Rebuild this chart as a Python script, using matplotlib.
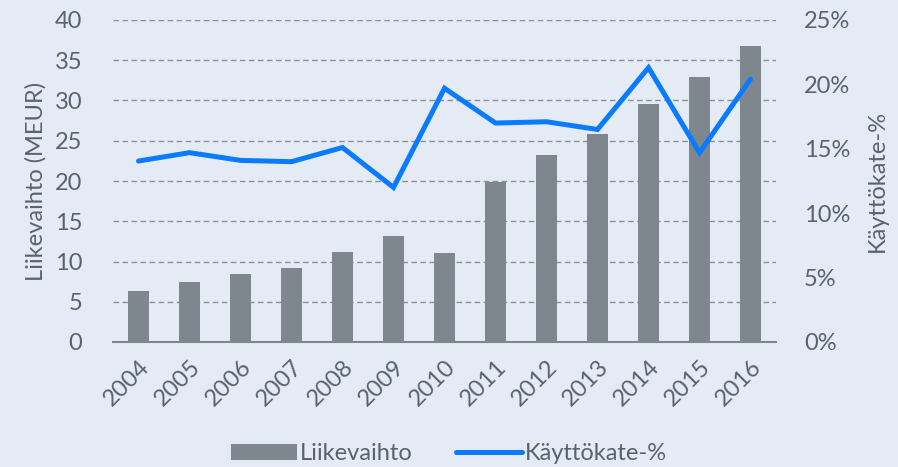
import numpy as np
import matplotlib
matplotlib.use('Agg')
import matplotlib.pyplot as plt

years = ['2004', '2005', '2006', '2007', '2008', '2009', '2010',
         '2011', '2012', '2013', '2014', '2015', '2016']
liikevaihto = [6.3, 7.45, 8.45, 9.2, 11.2, 13.2, 11.05, 19.9, 23.2, 25.8, 29.6, 32.9, 36.8]
kayttokate = [14.05, 14.7, 14.1, 14.0, 15.1, 12.0, 19.7, 17.0, 17.1, 16.5, 21.3, 14.7, 20.4]

bg = '#E4EBF5'
txt = '#596270'
bar_col = '#7E878D'
line_col = '#0A7BFF'

plt.rcParams['font.family'] = ['Lato', 'DejaVu Sans']
fs = 17

fig = plt.figure(figsize=(8.98, 4.67), dpi=100, facecolor=bg)
ax = fig.add_axes([113/898, 1-342/467, 663/898, 322/467])
ax.set_facecolor(bg)
x = np.arange(len(years))
bars = ax.bar(x, liikevaihto, width=0.4, color=bar_col, label='Liikevaihto', zorder=2)
ax.set_xlim(-0.5, len(years)-0.5)
ax.set_ylim(0, 40)
ax.set_yticks(range(0, 41, 5))
ax.yaxis.grid(True, linestyle=(0, (4, 2.5)), color='#8A9096', linewidth=1, zorder=0)
ax.set_axisbelow(True)
for s in ['top', 'right', 'left']:
    ax.spines[s].set_visible(False)
ax.spines['bottom'].set_color('#7E878D')
ax.spines['bottom'].set_linewidth(1.5)
ax.tick_params(axis='both', length=0, colors=txt, labelsize=fs)
ax.tick_params(axis='y', pad=22)
ax.set_xticks(x)
ax.set_xticklabels(years, rotation=45, ha='right', rotation_mode='anchor')
ax.tick_params(axis='x', pad=10)
ax.set_ylabel('Liikevaihto (MEUR)', color=txt, fontsize=fs, labelpad=6)

ax2 = ax.twinx()
line, = ax2.plot(x, kayttokate, color=line_col, linewidth=3.6, label='Käyttökate-%',
                 solid_capstyle='round', solid_joinstyle='miter', zorder=3)
ax2.set_ylim(0, 25)
ax2.set_yticks(range(0, 26, 5))
ax2.set_yticklabels([f'{v}%' for v in range(0, 26, 5)])
for s in ['top', 'right', 'left', 'bottom']:
    ax2.spines[s].set_visible(False)
ax2.tick_params(axis='y', length=0, colors=txt, labelsize=fs, pad=20)
ax2.set_ylabel('Käyttökate-%', color=txt, fontsize=fs, labelpad=12)

fig.legend(handles=[bars, line], loc='lower center', bbox_to_anchor=(0.5, -0.04),
           ncol=2, frameon=False, fontsize=fs, labelcolor=txt,
           handlelength=2.8, handletextpad=0.15, columnspacing=1.8)

fig.savefig('out.png', dpi=100, facecolor=bg)
